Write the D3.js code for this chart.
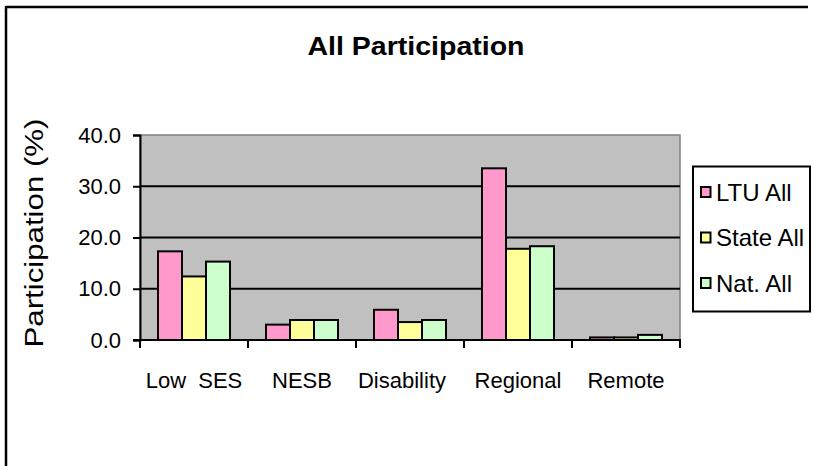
<!DOCTYPE html>
<html>
<head>
<meta charset="utf-8">
<script src="https://cdn.jsdelivr.net/npm/d3@7/dist/d3.min.js"></script>
<style>
  html, body { margin: 0; padding: 0; background: #fff; }
  svg { display: block; font-family: "Liberation Sans", Arial, sans-serif; }
</style>
</head>
<body>
<svg id="chart" width="813" height="466"></svg>
<script>
const categories = ["Low  SES", "NESB", "Disability", "Regional", "Remote"];
const seriesNames = ["LTU All", "State All", "Nat. All"];
const ltuAll   = [17.3, 3.0, 5.9, 33.5, 0.5];
const stateAll = [12.4, 3.9, 3.5, 17.8, 0.5];
const natAll   = [15.3, 3.9, 3.9, 18.3, 1.0];
const yTicks = [0, 10, 20, 30, 40];
const colors = ["#FF99CC", "#FFFF99", "#CCFFCC"];

const seriesValues = [ltuAll, stateAll, natAll];
const data = categories.map((c, i) => ({
  cat: c,
  vals: seriesNames.map((s, j) => ({ key: s, value: seriesValues[j][i], color: colors[j] }))
}));

const svg = d3.select("#chart");

// Outer chart border (top + left visible)
svg.append("line").attr("x1", 6).attr("x2", 808).attr("y1", 7).attr("y2", 7)
  .attr("stroke", "#000").attr("stroke-width", 2.5);
svg.append("line").attr("x1", 6).attr("x2", 6).attr("y1", 6).attr("y2", 470)
  .attr("stroke", "#000").attr("stroke-width", 2.5);

const plot = { left: 140, right: 680, top: 135, bottom: 340 };

const x0 = d3.scaleBand().domain(categories).range([plot.left, plot.right]).paddingInner(0).paddingOuter(0);
const x1 = d3.scaleBand().domain(seriesNames).range([0, x0.bandwidth()]).paddingInner(0).paddingOuter(0.75);
const y = d3.scaleLinear().domain([0, 40]).range([plot.bottom, plot.top]);

// Plot background
svg.append("rect")
  .attr("x", plot.left).attr("y", plot.top)
  .attr("width", plot.right - plot.left).attr("height", plot.bottom - plot.top)
  .attr("fill", "#C0C0C0").attr("stroke", "#808080").attr("stroke-width", 1.5);

// Gridlines
svg.append("g").selectAll("line")
  .data(yTicks.filter(t => t > 0 && t < 40))
  .join("line")
  .attr("x1", plot.left).attr("x2", plot.right)
  .attr("y1", d => y(d)).attr("y2", d => y(d))
  .attr("stroke", "#000").attr("stroke-width", 2);

// Bars
const groups = svg.append("g").selectAll("g")
  .data(data).join("g")
  .attr("transform", d => `translate(${x0(d.cat)},0)`);
groups.selectAll("rect")
  .data(d => d.vals).join("rect")
  .attr("x", d => x1(d.key))
  .attr("width", x1.bandwidth())
  .attr("y", d => y(d.value))
  .attr("height", d => y(0) - y(d.value))
  .attr("fill", d => d.color)
  .attr("stroke", "#000").attr("stroke-width", 2);

// Y axis
const yAxis = svg.append("g")
  .attr("transform", `translate(${plot.left},0)`)
  .call(d3.axisLeft(y).tickValues(yTicks).tickFormat(d3.format(".1f")).tickSize(7).tickPadding(12));
yAxis.select(".domain").attr("stroke", "#000").attr("stroke-width", 2);
yAxis.selectAll(".tick line").attr("stroke", "#000").attr("stroke-width", 2);
yAxis.selectAll(".tick text").attr("font-size", 22).attr("fill", "#000")
  .attr("font-family", "'Liberation Sans', Arial, sans-serif");

// X axis baseline and boundary ticks
svg.append("line").attr("x1", plot.left - 7).attr("x2", plot.right + 1)
  .attr("y1", plot.bottom).attr("y2", plot.bottom)
  .attr("stroke", "#000").attr("stroke-width", 2);
const boundaries = categories.map(c => x0(c)).concat([plot.right]);
svg.append("g").selectAll("line")
  .data(boundaries).join("line")
  .attr("x1", d => d).attr("x2", d => d)
  .attr("y1", plot.bottom).attr("y2", plot.bottom + 8)
  .attr("stroke", "#000").attr("stroke-width", 2);

// X labels
svg.append("g").selectAll("text")
  .data(categories).join("text")
  .attr("x", d => x0(d) + x0.bandwidth() / 2 - (d === "Disability" ? 8 : 0))
  .attr("y", 388)
  .attr("text-anchor", "middle")
  .attr("font-size", 22)
  .attr("xml:space", "preserve")
  .style("white-space", "pre")
  .text(d => d);

// Title
svg.append("text")
  .attr("x", 416).attr("y", 55)
  .attr("text-anchor", "middle")
  .attr("font-size", 26).attr("font-weight", "bold")
  .attr("textLength", 217).attr("lengthAdjust", "spacingAndGlyphs")
  .text("All Participation");

// Y title
svg.append("text")
  .attr("transform", "translate(43,233) rotate(-90)")
  .attr("text-anchor", "middle")
  .attr("font-size", 26)
  .attr("textLength", 229).attr("lengthAdjust", "spacingAndGlyphs")
  .text("Participation (%)");

// Legend
const legend = svg.append("g");
legend.append("rect")
  .attr("x", 693).attr("y", 166.5).attr("width", 117).attr("height", 145)
  .attr("fill", "#fff").attr("stroke", "#000").attr("stroke-width", 2);
const legendY = d3.scalePoint().domain(seriesNames).range([192, 283]);
const items = legend.selectAll("g.item")
  .data(seriesNames).join("g").attr("class", "item")
  .attr("transform", d => `translate(701,${legendY(d)})`);
items.append("rect")
  .attr("x", 0).attr("y", -5).attr("width", 9.5).attr("height", 10)
  .attr("fill", (d, i) => colors[i]).attr("stroke", "#000").attr("stroke-width", 2);
items.append("text")
  .attr("x", 15).attr("y", 8.5)
  .attr("font-size", 24)
  .text(d => d);
</script>
</body>
</html>
